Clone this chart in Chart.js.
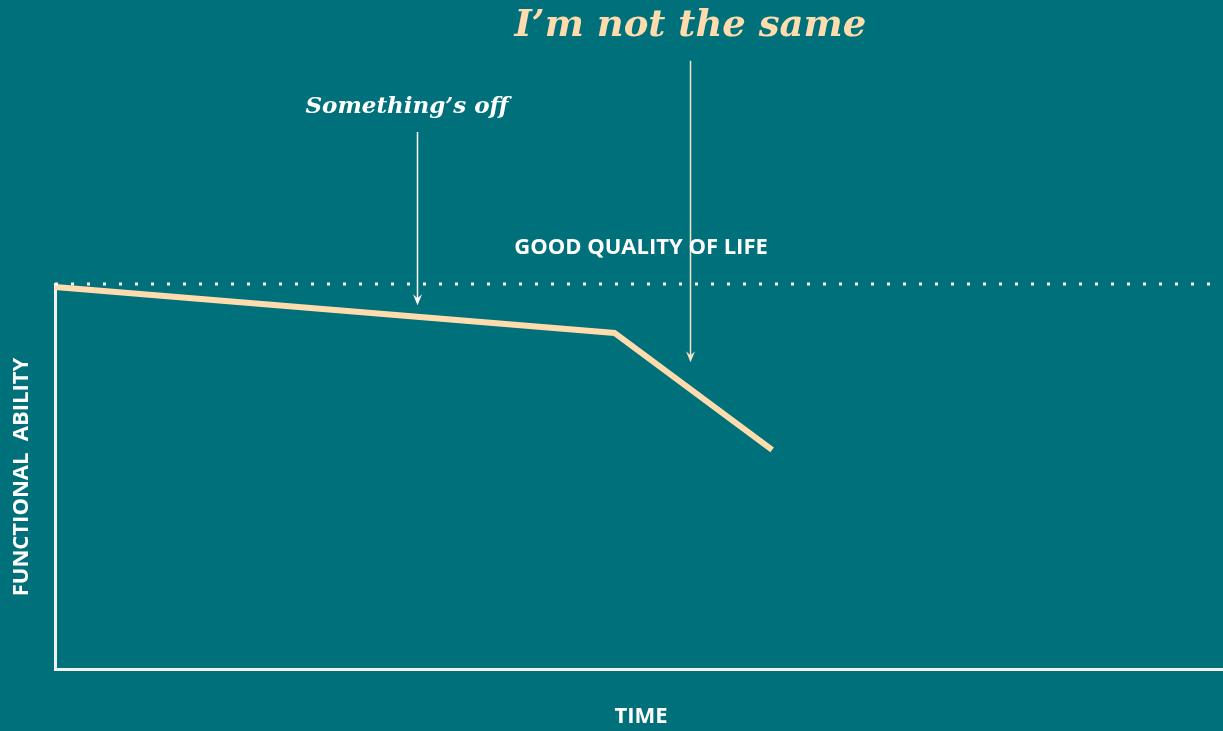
<!DOCTYPE html>
<html>
<head>
<meta charset="utf-8">
<script src="https://cdn.jsdelivr.net/npm/chart.js@4"></script>
<style>
  html, body { margin: 0; padding: 0; background: #00707a; }
  #wrap { width: 1223px; height: 731px; }
</style>
</head>
<body>
<div id="wrap"><canvas id="chart"></canvas></div>
<script>
// time runs 0..100 along the x axis, functional ability 0..100 up the y axis
const timePoints = [0, 47.9, 61.4];
const abilityValues = [99.2, 87.3, 56.9];
const qualityLevel = [100, 100];
const qualitySpan = [0, 100];

// annotations: label, x (time), text y, arrow start y, arrow tip y
const noteLabels = ['Something\u2019s off', 'I\u2019m not the same'];
const noteTime = [31.0, 54.4];
const noteTextY = [146, 167];
const noteFromY = [139.5, 158];
const noteToY = [94.5, 79.7];

const peach = '#ffdcae';

const annotate = {
  id: 'annotate',
  afterDatasetsDraw(chart) {
    const { ctx, scales: { x, y } } = chart;
    ctx.save();

    // arrows
    noteLabels.forEach((lbl, i) => {
      const px = Math.round(x.getPixelForValue(noteTime[i])) + 0.5;
      const y0 = y.getPixelForValue(noteFromY[i]);
      const y1 = y.getPixelForValue(noteToY[i]);
      const col = i === 0 ? '#ffffff' : '#f3e4c8';
      ctx.strokeStyle = col;
      ctx.fillStyle = col;
      ctx.lineWidth = 1.5;
      ctx.beginPath();
      ctx.moveTo(px, y0);
      ctx.lineTo(px, y1 - 6);
      ctx.stroke();
      ctx.beginPath();
      ctx.moveTo(px - 4.5, y1 - 11);
      ctx.lineTo(px, y1 - 7);
      ctx.lineTo(px + 4.5, y1 - 11);
      ctx.lineTo(px, y1);
      ctx.closePath();
      ctx.fill();
    });

    // annotation texts
    ctx.textAlign = 'center';
    ctx.textBaseline = 'middle';
    ctx.fillStyle = '#ffffff';
    ctx.font = 'italic bold 23px "DejaVu Serif"';
    ctx.fillText(noteLabels[0], x.getPixelForValue(noteTime[0]) - 10, y.getPixelForValue(noteTextY[0]));
    ctx.fillStyle = peach;
    ctx.font = 'italic bold 37px "DejaVu Serif"';
    ctx.fillText(noteLabels[1], x.getPixelForValue(noteTime[1]), y.getPixelForValue(noteTextY[1]));

    // labels
    ctx.fillStyle = '#ffffff';
    ctx.font = 'bold 22px "Open Sans"';
    ctx.fillText('GOOD QUALITY OF LIFE', 641, 248);
    ctx.fillText('TIME', 641, 717);
    ctx.translate(22, 477);
    ctx.rotate(-Math.PI / 2);
    ctx.fillText('FUNCTIONAL  ABILITY', 0, 0);
    ctx.restore();
  }
};

new Chart(document.getElementById('chart'), {
  type: 'line',
  data: {
    datasets: [
      {
        label: 'Good quality of life',
        data: qualitySpan.map((t, i) => ({ x: t, y: qualityLevel[i] })),
        borderColor: '#ffffff',
        borderWidth: 3,
        borderDash: [3, 13],
        borderCapStyle: 'butt',
        pointRadius: 0,
        clip: false
      },
      {
        label: 'Functional ability',
        data: timePoints.map((t, i) => ({ x: t, y: abilityValues[i] })),
        borderColor: peach,
        borderWidth: 6,
        borderJoinStyle: 'miter',
        pointRadius: 0,
        tension: 0,
        clip: false
      }
    ]
  },
  options: {
    responsive: true,
    maintainAspectRatio: false,
    animation: false,
    layout: { padding: { left: 47, top: 284, right: 0, bottom: 54 } },
    plugins: { legend: { display: false }, tooltip: { enabled: false } },
    scales: {
      x: {
        type: 'linear', min: 0, max: 100,
        grid: { display: false },
        ticks: { display: false },
        border: { color: '#f2f2f2', width: 3 }
      },
      y: {
        min: 0, max: 100,
        grid: { display: false },
        ticks: { display: false },
        border: { color: '#f2f2f2', width: 3 }
      }
    }
  },
  plugins: [annotate]
});
</script>
</body>
</html>
